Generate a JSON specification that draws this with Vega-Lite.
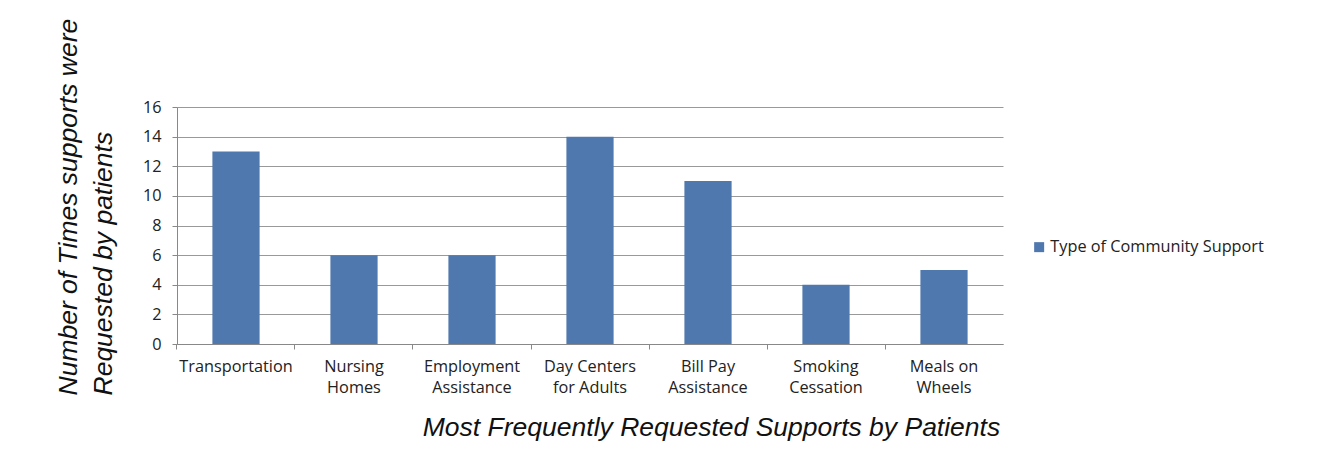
{
  "$schema": "https://vega.github.io/schema/vega-lite/v6.json",
  "width": 826,
  "height": 237,
  "autosize": {"type": "none"},
  "padding": {"left": 177, "top": 107, "right": 315, "bottom": 111},
  "background": "white",
  "data": {
    "values": [
      {"support": "Transportation", "count": 13, "series": "Type of Community Support"},
      {"support": "Nursing Homes", "count": 6, "series": "Type of Community Support"},
      {"support": "Employment Assistance", "count": 6, "series": "Type of Community Support"},
      {"support": "Day Centers for Adults", "count": 14, "series": "Type of Community Support"},
      {"support": "Bill Pay Assistance", "count": 11, "series": "Type of Community Support"},
      {"support": "Smoking Cessation", "count": 4, "series": "Type of Community Support"},
      {"support": "Meals on Wheels", "count": 5, "series": "Type of Community Support"}
    ]
  },
  "mark": {"type": "bar"},
  "encoding": {
    "x": {
      "field": "support",
      "type": "nominal",
      "sort": null,
      "scale": {"paddingInner": 0.6, "paddingOuter": 0.3},
      "axis": {
        "title": "Most Frequently Requested Supports by Patients",
        "titleFont": "Liberation Sans",
        "titleFontStyle": "italic",
        "titleFontWeight": "normal",
        "titleFontSize": 26.5,
        "titleColor": "#111111",
        "titleX": 534,
        "titleY": 83,
        "titleBaseline": "middle",
        "titleAlign": "center",
        "labelAngle": 0,
        "labelFont": "Open Sans",
        "labelFontSize": 16.3,
        "labelColor": "#222222",
        "labelLineHeight": 21,
        "labelPadding": 9,
        "labelBaseline": "top",
        "labelExpr": "datum.label == 'Day Centers for Adults' ? ['Day Centers', 'for Adults'] : datum.label == 'Meals on Wheels' ? ['Meals on', 'Wheels'] : datum.label == 'Bill Pay Assistance' ? ['Bill Pay', 'Assistance'] : split(datum.label, ' ')",
        "bandPosition": -0.75,
        "tickSize": 5,
        "tickColor": "#888888",
        "domainColor": "#888888",
        "grid": false
      }
    },
    "y": {
      "field": "count",
      "type": "quantitative",
      "scale": {"domain": [0, 16], "nice": false},
      "axis": {
        "values": [0, 2, 4, 6, 8, 10, 12, 14, 16],
        "title": ["Number of Times supports were", "Requested by patients"],
        "titleFont": "Liberation Sans",
        "titleFontStyle": "italic",
        "titleFontWeight": "normal",
        "titleFontSize": 26.5,
        "titleColor": "#111111",
        "titleLineHeight": 35,
        "titleAngle": 270,
        "titleAlign": "left",
        "titleBaseline": "middle",
        "titleX": -109,
        "titleY": 288,
        "labelFont": "Open Sans",
        "labelFontSize": 16.3,
        "labelColor": "#222222",
        "labelPadding": 11,
        "tickSize": 5,
        "tickColor": "#888888",
        "domainColor": "#888888",
        "gridColor": "#999999",
        "gridWidth": 1
      }
    },
    "color": {
      "field": "series",
      "type": "nominal",
      "scale": {"range": ["#4F78AE"]},
      "legend": {
        "title": null,
        "orient": "none",
        "legendX": 854,
        "legendY": 132,
        "symbolType": "square",
        "symbolSize": 100,
        "symbolStrokeWidth": 0,
        "symbolOpacity": 1,
        "labelFont": "Open Sans",
        "labelFontSize": 16.3,
        "labelColor": "#222222",
        "labelOffset": 3,
        "labelLimit": 400
      }
    }
  },
  "config": {"view": {"stroke": null}}
}
